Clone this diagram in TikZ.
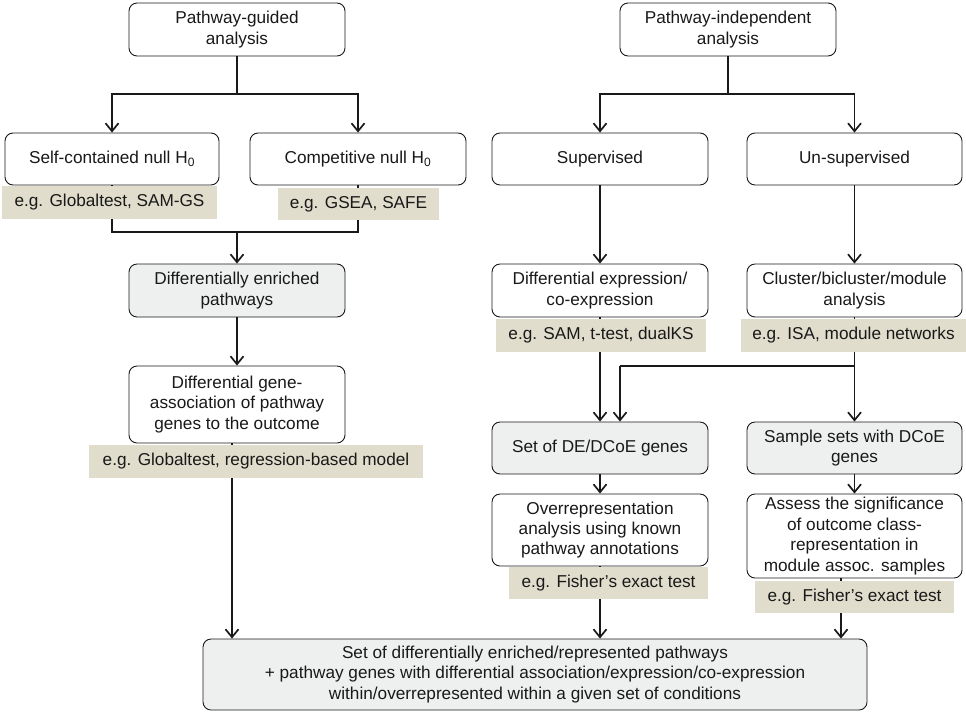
\documentclass[tikz,border=0pt]{standalone}
\usepackage{fontspec}
\setmainfont{Liberation Sans}
\usetikzlibrary{arrows.meta}

\definecolor{inkc}{RGB}{25,25,25}
\definecolor{resultfill}{RGB}{238,240,239}
\definecolor{toolfill}{RGB}{224,221,204}

\tikzset{
  box/.style={draw=inkc, line width=0.9pt, rounded corners=8pt, fill=white,
    align=center, inner sep=0pt, text=inkc, font=\fontsize{17.2}{20.4}\selectfont},
  result/.style={box, fill=resultfill},
  tool/.style={fill=toolfill, inner sep=0pt, align=center, text=inkc,
    font=\fontsize{17.2}{20.4}\selectfont},
  conn/.style={draw=inkc, line width=1.1pt},
  mainconn/.style={draw=inkc, line width=1.8pt},
  arr/.style={-{Straight Barb[length=8pt,width=13pt,line width=1.7pt]}},
}

\begin{document}
\begin{tikzpicture}[x=1pt,y=-1pt]
\useasboundingbox (0,0) rectangle (966,713);

% ---- boxes ----
\node[box, minimum width=216pt, minimum height=53pt] (pg) at (237,29.5) {Pathway-guided\\analysis};
\node[box, minimum width=216pt, minimum height=53pt] (pi) at (728,29.5) {Pathway-independent\\analysis};

\node[box, minimum width=214pt, minimum height=52pt] (sc) at (112,159) {Self-contained null H\textsubscript{0}};
\node[box, minimum width=216pt, minimum height=52pt] (cn) at (358,159) {Competitive null H\textsubscript{0}};
\node[box, minimum width=216pt, minimum height=52pt] (sup) at (600,159) {Supervised};
\node[box, minimum width=215pt, minimum height=52pt] (uns) at (854.5,159) {Un-supervised};

\node[result, minimum width=216pt, minimum height=53pt] (dep) at (237,290.5) {Differentially enriched\\pathways};
\node[box, minimum width=216pt, minimum height=53pt] (dex) at (600,290.5) {Differential expression/\\co-expression};
\node[box, minimum width=215pt, minimum height=53pt] (cbm) at (854.5,290.5) {Cluster/bicluster/module\\analysis};

\node[box, minimum width=216pt, minimum height=77pt] (dga) at (237,404.5) {Differential gene-\\association of pathway\\genes to the outcome};

\node[result, minimum width=216pt, minimum height=52pt] (sdg) at (600,448) {Set of DE/DCoE genes};
\node[result, minimum width=215pt, minimum height=52pt] (ss) at (854.5,448) {Sample sets with DCoE\\genes};

\node[box, minimum width=216pt, minimum height=72pt] (ora) at (600,530) {Overrepresentation\\analysis using known\\pathway annotations};
\node[box, minimum width=215pt, minimum height=84pt] (ass) at (854.5,536) {Assess the significance\\of outcome class-\\representation in\\module assoc. samples};

\node[result, minimum width=664pt, minimum height=71pt] (fin) at (535,674.5)
  {Set of differentially enriched/represented pathways\\
   + pathway genes with differential association/expression/co-expression\\
   within/overrepresented within a given set of conditions};

% ---- connectors ----
\coordinate (pgsplit) at (237,94);
\coordinate (pisplit) at (728,94);
\coordinate (merge) at (237,232);
\coordinate (branch) at (854,366);
\coordinate (sidein) at (620,366);
\coordinate (colA) at (232,0);
\coordinate (colB) at (841,0);

\draw[mainconn] (pg.south) -- (pgsplit);
\draw[mainconn, arr] (pgsplit) -| (sc.north);
\draw[mainconn, arr] (pgsplit) -| (cn.north);
\draw[mainconn] (pi.south) -- (pisplit);
\draw[mainconn, arr] (pisplit) -| (sup.north);
\draw[mainconn, arr] (pisplit) -| (uns.north);

\draw[conn] (sc.south) |- (merge) -| (cn.south);
\draw[conn, arr] (merge) -- (dep.north);
\draw[conn, arr] (dep.south) -- (dga.north);
\draw[conn, arr] (dga.south -| colA) -- (fin.north -| colA);

\draw[conn, arr] (sup.south) -- (dex.north);
\draw[conn, arr] (uns.south) -- (cbm.north);
\draw[conn, arr] (dex.south) -- (sdg.north);
\draw[conn, arr] (cbm.south) -- (ss.north);
\draw[conn] (branch) -- (sidein);
\draw[conn, arr] (sidein) -- (sdg.north -| sidein);
\draw[conn, arr] (sdg.south) -- (ora.north);
\draw[conn, arr] (ss.south) -- (ass.north);
\draw[conn, arr] (ora.south) -- (fin.north -| ora.south);
\draw[conn, arr] (ass.south -| colB) -- (fin.north -| colB);

% ---- example methods ----
\node[tool, minimum width=215pt, minimum height=33pt] (eg1) at (109.5,202.5) {e.g. Globaltest, SAM-GS};
\node[tool, minimum width=161pt, minimum height=32pt] (eg2) at (358.5,204) {e.g. GSEA, SAFE};
\node[tool, minimum width=334pt, minimum height=33pt] (eg3) at (256,461.5) {e.g. Globaltest, regression-based model};
\node[tool, minimum width=210pt, minimum height=33pt] (eg4) at (601,335.5) {e.g. SAM, t-test, dualKS};
\node[tool, minimum width=225pt, minimum height=33pt] (eg5) at (853.5,335.5) {e.g. ISA, module networks};
\node[tool, minimum width=199pt, minimum height=32pt] (eg6) at (608.5,583) {e.g. Fisher’s exact test};
\node[tool, minimum width=199pt, minimum height=32pt] (eg7) at (854.5,597) {e.g. Fisher’s exact test};
\end{tikzpicture}
\end{document}
